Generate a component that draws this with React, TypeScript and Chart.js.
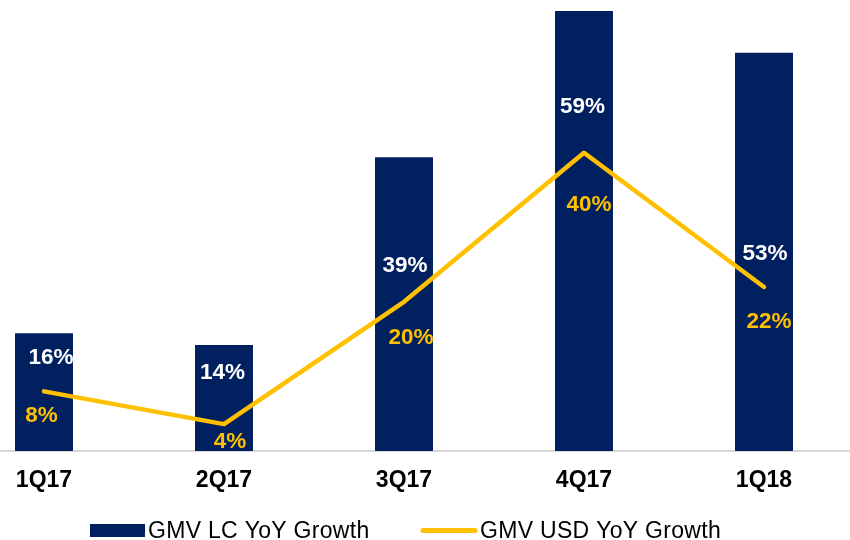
import React, { useEffect, useRef } from "react";
import { Chart, registerables } from "chart.js";

Chart.register(...registerables);

const categories = ["1Q17", "2Q17", "3Q17", "4Q17", "1Q18"];
const lcGrowth = [15.8, 14.2, 39.4, 59, 53.4];
const usdGrowth = [8, 3.6, 20, 40, 22];
const lcLabels = ["16%", "14%", "39%", "59%", "53%"];
const usdLabels = ["8%", "4%", "20%", "40%", "22%"];
const seriesNames = ["GMV LC YoY Growth", "GMV USD YoY Growth"];

const NAVY = "#002060";
const GOLD = "#FFC000";
const FONT = "'Liberation Sans', Arial, Helvetica, sans-serif";

// label placement relative to the line point (pixels)
const lcLabelDx = [7, -1.5, 1, -1.5, 1];
const lcLabelDy = [-34, -51, -36, -46, -33];
const usdLabelDx = [-2.5, 6, 7, 5, 5];
const usdLabelDy = [24, 18, 36, 52, 35];

const SHIFT = 46; // canvas offset to the left of the visible frame

const labelPlugin = {
  id: "valueLabels",
  afterDatasetsDraw(chart: any) {
    const ctx = chart.ctx;
    const lineMeta = chart.getDatasetMeta(1);
    ctx.save();
    ctx.font = `bold 22.5px ${FONT}`;
    ctx.textAlign = "center";
    ctx.textBaseline = "middle";
    lineMeta.data.forEach((pt: any, i: number) => {
      ctx.fillStyle = "#ffffff";
      ctx.fillText(lcLabels[i], pt.x + lcLabelDx[i], pt.y + lcLabelDy[i]);
      ctx.fillStyle = GOLD;
      ctx.fillText(usdLabels[i], pt.x + usdLabelDx[i], pt.y + usdLabelDy[i]);
    });
    ctx.restore();
  },
  afterDraw(chart: any) {
    const ctx = chart.ctx;
    ctx.save();
    ctx.font = `23px ${FONT}`;
    (ctx as any).letterSpacing = "0.3px";
    ctx.textAlign = "left";
    ctx.textBaseline = "alphabetic";
    // bar legend item
    ctx.fillStyle = NAVY;
    ctx.fillRect(90 + SHIFT, 524, 55, 13);
    ctx.fillStyle = "#000000";
    ctx.fillText(seriesNames[0], 148 + SHIFT, 537.5);
    // line legend item
    ctx.strokeStyle = GOLD;
    ctx.lineWidth = 5;
    ctx.lineCap = "round";
    ctx.beginPath();
    ctx.moveTo(423 + SHIFT, 530.5);
    ctx.lineTo(475 + SHIFT, 530.5);
    ctx.stroke();
    ctx.fillStyle = "#000000";
    ctx.fillText(seriesNames[1], 480 + SHIFT, 537.5);
    ctx.restore();
  },
};

export default function App() {
  const ref = useRef<HTMLCanvasElement | null>(null);

  useEffect(() => {
    if (!ref.current) return;
    const chart = new Chart(ref.current, {
      type: "bar",
      data: {
        labels: categories,
        datasets: [
          {
            type: "bar",
            label: seriesNames[0],
            data: lcGrowth,
            backgroundColor: NAVY,
            borderWidth: 0,
            categoryPercentage: 1,
            barPercentage: 0.322,
            order: 1,
          },
          {
            type: "line",
            label: seriesNames[1],
            data: usdGrowth,
            borderColor: GOLD,
            backgroundColor: GOLD,
            borderWidth: 4.5,
            pointRadius: 0,
            tension: 0,
            borderJoinStyle: "round",
            borderCapStyle: "round",
            order: 0,
          } as any,
        ],
      },
      options: {
        responsive: false,
        animation: false,
        layout: { padding: { top: 11, left: 0, right: 0, bottom: 0 } },
        plugins: {
          legend: { display: false },
          tooltip: { enabled: false },
        },
        scales: {
          x: {
            offset: true,
            grid: { display: false, drawTicks: false },
            border: { display: true, color: "#d9d9d9", width: 2 },
            ticks: {
              color: "#000000",
              font: { family: FONT, size: 23, weight: "bold" },
              padding: 16,
              maxRotation: 0,
            },
            afterFit: (scale: any) => {
              scale.height = 89;
            },
          },
          y: {
            display: false,
            min: 0,
            max: 59,
          },
        },
      },
      plugins: [labelPlugin],
    });
    return () => chart.destroy();
  }, []);

  return (
    <div
      style={{
        position: "absolute",
        left: 0,
        top: 0,
        width: 850,
        height: 540,
        overflow: "hidden",
        background: "#ffffff",
      }}
    >
      <canvas
        ref={ref}
        width={900}
        height={540}
        style={{ position: "absolute", left: -SHIFT, top: 0, width: 900, height: 540 }}
      />
    </div>
  );
}
